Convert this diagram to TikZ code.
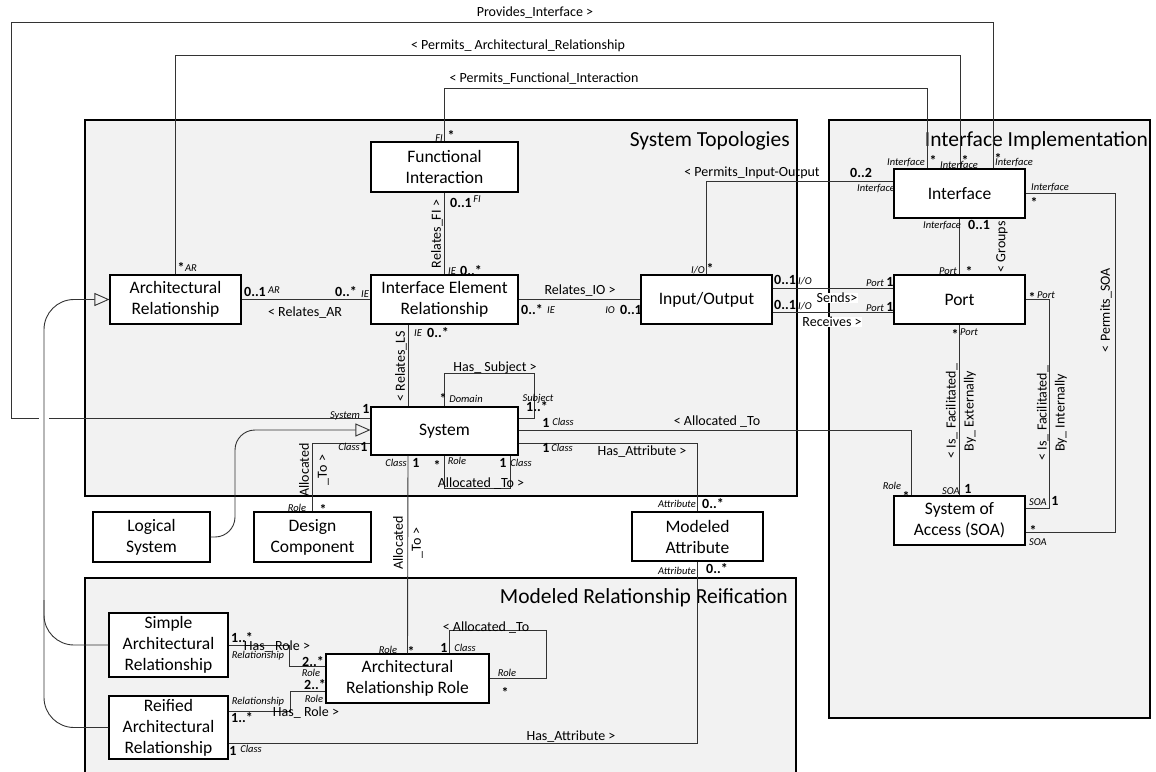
\documentclass[tikz,border=0pt]{standalone}
\usepackage{fontspec}
\setmainfont{Carlito}
\usetikzlibrary{arrows.meta}
\definecolor{pkggray}{HTML}{F2F2F2}
\definecolor{linegray}{HTML}{333333}
\tikzset{
  pkg/.style={draw=black, fill=pkggray, line width=1.1pt},
  ttl/.style={anchor=east, inner sep=0pt, font=\fontsize{21.5}{24}\selectfont},
  cls/.style={draw=black, fill=white, line width=1.1pt, align=center, inner sep=0pt, font=\fontsize{17.5}{21}\selectfont},
  conn/.style={draw=linegray, line width=0.9pt},
  gen/.style={conn, -{Triangle[open, length=15pt, width=13pt]}},
  lbl/.style={inner sep=0.5pt, font=\fontsize{14}{17}\selectfont},
  vlbl/.style={inner sep=0.5pt, rotate=90, align=center, font=\fontsize{14}{18}\selectfont},
  mlt/.style={inner sep=0pt, font=\bfseries\fontsize{14}{15}\selectfont},
  st/.style={mlt, yshift=-2pt},
  rle/.style={inner sep=0pt, font=\itshape\fontsize{10.5}{12}\selectfont}
}
\begin{document}
\begin{tikzpicture}[x=1pt, y=-1pt]
\useasboundingbox (0,0) rectangle (1156,771);

% packages
\draw[pkg] (85,120) rectangle (797,496);
\draw[pkg] (829,120) rectangle (1150,718);
\draw[pkg] (85,578) rectangle (796,790);
\node[ttl] (tST) at (790,141) {System Topologies};
\node[ttl] (tII) at (1148,141) {Interface Implementation};
\node[ttl] (tMR) at (788,598) {Modeled Relationship Reification};

% classes
\node[cls, minimum width=147pt, minimum height=50pt] (FI) at (444.5,167) {Functional\\Interaction};
\node[cls, minimum width=131pt, minimum height=49pt] (AR) at (175.5,299.5) {Architectural\\Relationship};
\node[cls, minimum width=147pt, minimum height=49pt] (IER) at (444.5,299.5) {Interface Element\\Relationship};
\node[cls, minimum width=131pt, minimum height=49pt] (IO) at (706.5,299.5) {Input/Output};
\node[cls, minimum width=131pt, minimum height=49pt] (Ifc) at (959.5,193.5) {Interface};
\node[cls, minimum width=131pt, minimum height=49pt] (Port) at (959.5,299.5) {Port};
\node[cls, minimum width=147pt, minimum height=48pt] (Sys) at (444.5,431) {System};
\node[cls, minimum width=131pt, minimum height=49pt] (SOA) at (959.5,520.5) {System of\\Access (SOA)};
\node[cls, minimum width=117pt, minimum height=50pt] (LS) at (151.5,537) {Logical\\System};
\node[cls, minimum width=117pt, minimum height=50pt] (DC) at (312.5,537) {Design\\Component};
\node[cls, minimum width=131pt, minimum height=49pt] (MA) at (697.5,536.5) {Modeled\\Attribute};
\node[cls, minimum width=119pt, minimum height=64pt] (SAR) at (168.5,645) {Simple\\Architectural\\Relationship};
\node[cls, minimum width=119pt, minimum height=63pt] (RAR) at (168.5,727.5) {Reified\\Architectural\\Relationship};
\node[cls, minimum width=163pt, minimum height=49pt] (ARR) at (407.5,678.5) {Architectural\\Relationship Role};

% connectors
\draw[conn] (FI.north) |- (927,88) -- ([xshift=-32.5pt]Ifc.north);
\draw[conn] (AR.north) |- (960,55) -- ([xshift=0.5pt]Ifc.north);
\draw[conn] ([xshift=33.5pt]Ifc.north) |- (11,22) |- (39,418);
\draw[conn] (49,418) -- ([yshift=13pt]Sys.west);
\draw[conn] (FI.south) -- (IER.north);
\draw[conn] (AR.east) -- (IER.west);
\draw[conn] (IER.east) -- (IO.west);
\draw[conn] ([xshift=-36.5pt]IER.south) -- ([xshift=-36.5pt]Sys.north);
\draw[conn] (IO.north) |- ([yshift=12.5pt]Ifc.west);
\draw[conn] ([yshift=11.5pt]IO.east) -- ([yshift=11.5pt]Port.west);
\draw[conn] ([yshift=-12.5pt]IO.east) -- ([yshift=-12.5pt]Port.west);
\draw[conn] (Ifc.south) -- (Port.north);
\draw[conn] ([yshift=0.5pt]Ifc.east) -| (1115,400) |- ([yshift=-11.5pt]SOA.east);
\draw[conn] (Port.south) -- (SOA.north);
\draw[conn] (Port.east) -| (1049,400) |- ([yshift=12.5pt]SOA.east);
\draw[conn] ([yshift=1pt]Sys.east) -| ([xshift=-48.5pt]SOA.north);
\draw[conn] (Sys.north) |- (534,373) |- ([yshift=13pt]Sys.east);
\draw[conn] ([yshift=-12pt]Sys.east) -| (MA.north);
\draw[conn] (Sys.south) |- (510,488) -- ([xshift=65.5pt]Sys.south);
\draw[conn] ([yshift=-12pt]Sys.west) -| (DC.north);
\draw[conn] ([xshift=-36.5pt]Sys.south) -- (ARR.north);
\draw[gen, rounded corners=20pt] (LS.east) -| (235,430) -- ([yshift=1pt]Sys.west);
\draw[gen, rounded corners=30pt] (SAR.west) -| (44,299.5) -- (AR.west);
\draw[conn, rounded corners=30pt] (RAR.west) -| (44,600);
\draw[conn] ([yshift=-15.5pt]RAR.east) -| (MA.south);
\draw[conn] (SAR.east) -| (289,666) -- ([yshift=12.5pt]ARR.west);
\draw[conn] ([yshift=16.5pt]RAR.east) -| (290,691) -- ([yshift=-12.5pt]ARR.west);
\draw[conn] ([xshift=41.5pt]ARR.north) |- (546,630) |- (ARR.east);

% association names
\node[lbl] (lPI) at (535,13) {Provides\_Interface >};
\node[lbl] (lPAR) at (518,46) {< Permits\_ Architectural\_Relationship};
\node[lbl] (lPFI) at (544,79) {< Permits\_Functional\_Interaction};
\node[vlbl] (lRFI) at (437,234) {Relates\_FI >};
\node[lbl] (lRAR) at (305,313) {< Relates\_AR};
\node[lbl] (lRIO) at (580,291) {Relates\_IO >};
\node[vlbl] (lRLS) at (401,366) {< Relates\_LS};
\node[lbl] (lPIO) at (752,173) {< Permits\_Input-Output};
\node[lbl, fill=white] (lSnd) at (837,298) {Sends>};
\node[lbl, fill=white] (lRcv) at (832,322) {Receives >};
\node[vlbl] (lGrp) at (1002,247) {< Groups};
\node[vlbl] (lPSOA) at (1106,310) {< Permits\_SOA};
\node[vlbl] (lFExt) at (961,411) {< Is\_ Facilitated\_\\By\_ Externally};
\node[vlbl] (lFInt) at (1052,413) {< Is\_ Facilitated\_\\By\_ Internally};
\node[lbl] (lASOA) at (717,422) {< Allocated \_To};
\node[lbl] (lHS) at (495,368) {Has\_ Subject >};
\node[lbl] (lHA) at (642,452) {Has\_Attribute >};
\node[lbl] (lAL) at (481,484) {Allocated \_To >};
\node[vlbl] (lADC) at (314,470) {Allocated\\\_To >};
\node[vlbl] (lAARR) at (408,543) {Allocated\\\_To >};
\node[lbl] (lHA2) at (571,737) {Has\_Attribute >};
\node[lbl] (lHR1) at (277,647) {Has\_ Role >};
\node[lbl] (lHR2) at (306,713) {Has\_ Role >};
\node[lbl] (lAR2) at (486,628) {< Allocated \_To};

% multiplicities and roles
\node[rle] (r1) at (906,163) {Interface};   \node[st] (m1) at (933,158) {*};
\node[rle] (r2) at (959,166) {Interface};   \node[st] (m2) at (965,158) {*};
\node[rle] (r3) at (1014,163) {Interface};  \node[st] (m3) at (998,156) {*};
\node[rle] (r4) at (439,138) {FI};          \node[st] (m4) at (451,133) {*};
\node[st] (m5) at (181,265) {*};            \node[rle] (r5) at (191,268) {AR};
\node[mlt] (m6) at (461,203) {0..1};        \node[rle] (r6) at (477,199) {FI};
\node[rle] (r7) at (452,271) {IE};          \node[mlt] (m7) at (471,271) {0..*};
\node[mlt] (m8) at (255,292) {0..1};        \node[rle] (r8) at (274,290) {AR};
\node[mlt] (m9) at (346,292) {0..*};        \node[rle] (r9) at (365,294) {IE};
\node[mlt] (m10) at (532,310) {0..*};       \node[rle] (r10) at (551,310) {IE};
\node[rle] (r11) at (610,310) {IO};         \node[mlt] (m11) at (631,310) {0..1};
\node[rle] (r12) at (418,333) {IE};         \node[mlt] (m12) at (438,333) {0..*};
\node[rle] (r13) at (345,416) {System};     \node[mlt] (m13) at (366,409) {1};
\node[rle] (r14) at (698,270) {I/O};        \node[st] (m14) at (710,266) {*};
\node[mlt] (m15) at (861,173) {0..2};       \node[rle] (r15) at (876,189) {Interface};
\node[mlt] (m16) at (785,280) {0..1};       \node[rle] (r16) at (805,281) {I/O};
\node[mlt] (m17) at (785,305) {0..1};       \node[rle] (r17) at (805,306) {I/O};
\node[rle] (r18) at (875,283) {Port};       \node[mlt] (m18) at (890,282) {1};
\node[rle] (r19) at (875,308) {Port};       \node[mlt] (m19) at (890,307) {1};
\node[rle] (r20) at (942,226) {Interface};  \node[mlt] (m20) at (979,225) {0..1};
\node[rle] (r21) at (948,271) {Port};       \node[st] (m21) at (969,269) {*};
\node[rle] (r22) at (1050,188) {Interface}; \node[st] (m22) at (1034,200) {*};
\node[st] (m23) at (1033,528) {*};          \node[rle] (r23) at (1038,542) {SOA};
\node[st] (m24) at (955,332) {*};           \node[rle] (r24) at (969,332) {Port};
\node[rle] (r25) at (951,491) {SOA};        \node[mlt] (m25) at (968,489) {1};
\node[st] (m26) at (1032,295) {*};          \node[rle] (r26) at (1046,295) {Port};
\node[rle] (r27) at (1038,502) {SOA};       \node[mlt] (m27) at (1055,501) {1};
\node[mlt] (m28) at (546,423) {1};          \node[rle] (r28) at (563,422) {Class};
\node[rle] (r29) at (892,486) {Role};       \node[st] (m29) at (906,494) {*};
\node[st] (m30) at (443,396) {*};           \node[rle] (r30) at (466,399) {Domain};
\node[rle] (r31) at (538,399) {Subject};    \node[mlt] (m31) at (537,407) {1..*};
\node[mlt] (m32) at (546,448) {1};          \node[rle] (r32) at (562,448) {Class};
\node[rle] (r33) at (677,504) {Attribute};  \node[mlt] (m33) at (713,504) {0..*};
\node[st] (m34) at (437,463) {*};           \node[rle] (r34) at (457,461) {Role};
\node[mlt] (m35) at (503,463) {1};          \node[rle] (r35) at (521,463) {Class};
\node[rle] (r36) at (349,447) {Class};      \node[mlt] (m36) at (364,447) {1};
\node[rle] (r37) at (297,508) {Role};       \node[st] (m37) at (323,507) {*};
\node[rle] (r38) at (396,463) {Class};      \node[mlt] (m38) at (416,463) {1};
\node[rle] (r39) at (388,650) {Role};       \node[st] (m39) at (411,649) {*};
\node[mlt] (m40) at (233,751) {1};          \node[rle] (r40) at (251,749) {Class};
\node[rle] (r41) at (677,571) {Attribute};  \node[mlt] (m41) at (717,569) {0..*};
\node[mlt] (m42) at (242,638) {1..*};       \node[rle] (r42) at (258,656) {Relationship};
\node[mlt] (m43) at (313,662) {2..*};       \node[rle] (r43) at (311,673) {Role};
\node[rle] (r44) at (258,702) {Relationship}; \node[mlt] (m44) at (242,718) {1..*};
\node[mlt] (m45) at (315,685) {2..*};       \node[rle] (r45) at (314,699) {Role};
\node[mlt] (m46) at (444,648) {1};          \node[rle] (r46) at (465,648) {Class};
\node[rle] (r47) at (507,673) {Role};       \node[st] (m47) at (505,690) {*};
\end{tikzpicture}
\end{document}
